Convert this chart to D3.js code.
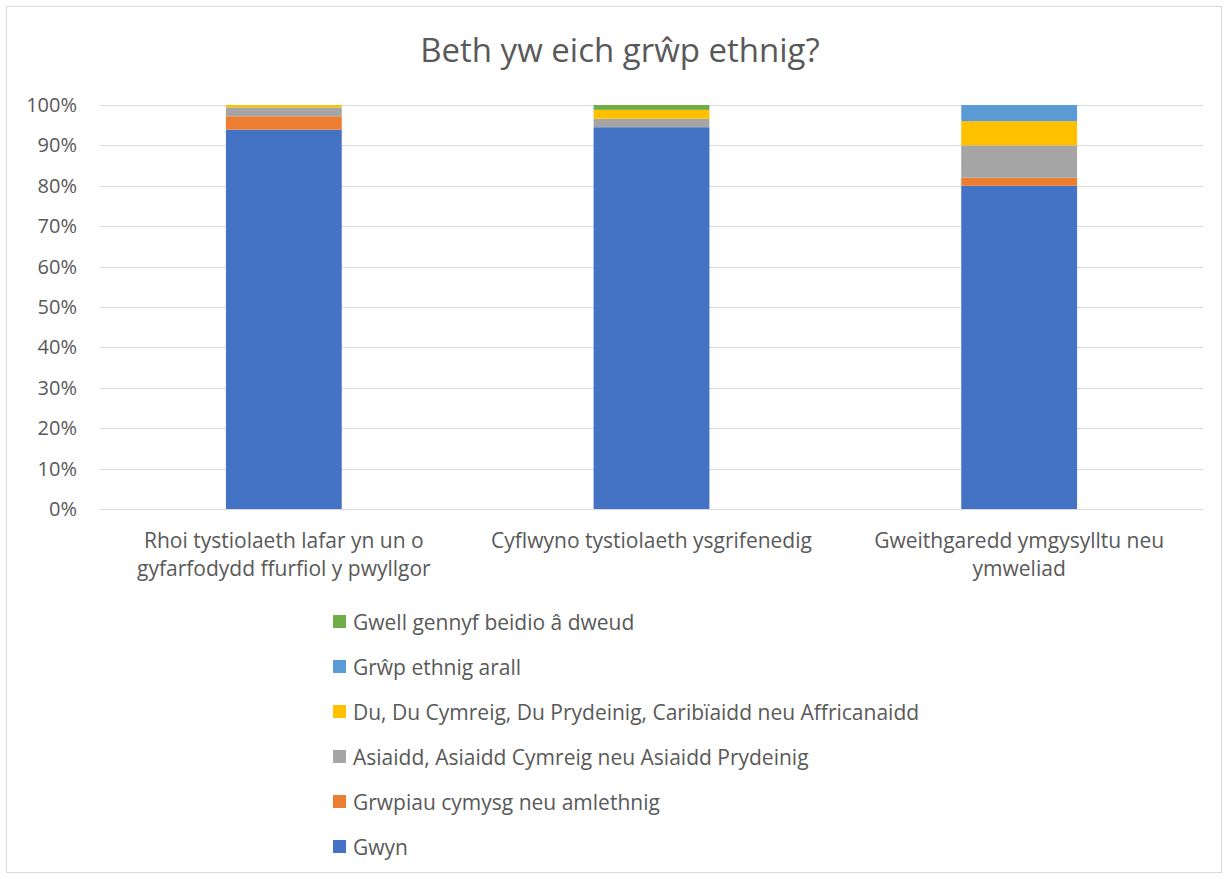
<!DOCTYPE html>
<html>
  <head>
    <meta charset="utf-8">
    <title>Beth yw eich grŵp ethnig?</title>
    <script src="https://cdn.jsdelivr.net/npm/d3@7"></script>
    <style>
      body { margin: 0; background: #fff; }
      svg text { font-family: "Open Sans", "Liberation Sans", sans-serif; fill: #595959; }
      .grid line { stroke: #d9d9d9; stroke-width: 1; }
      .axis path, .axis line { stroke: none; }
    </style>
  </head>

  <body>
    <svg id="chart" width="1227" height="879"></svg>

    <script>
      // data
      categories = ["Rhoi tystiolaeth lafar yn un o gyfarfodydd ffurfiol y pwyllgor",
        "Cyflwyno tystiolaeth ysgrifenedig",
        "Gweithgaredd ymgysylltu neu ymweliad"];
      categoryLines = [
        ["Rhoi tystiolaeth lafar yn un o", "gyfarfodydd ffurfiol y pwyllgor"],
        ["Cyflwyno tystiolaeth ysgrifenedig"],
        ["Gweithgaredd ymgysylltu neu", "ymweliad"]
      ];
      seriesNames = ["Gwyn", "Grwpiau cymysg neu amlethnig",
        "Asiaidd, Asiaidd Cymreig neu Asiaidd Prydeinig",
        "Du, Du Cymreig, Du Prydeinig, Caribïaidd neu Affricanaidd",
        "Grŵp ethnig arall", "Gwell gennyf beidio â dweud"];
      gwyn = [0.939, 0.945, 0.80];
      cymysg = [0.033, 0.0, 0.02];
      asiaidd = [0.022, 0.021, 0.08];
      du = [0.006, 0.022, 0.06];
      arall = [0.0, 0.0, 0.04];
      gwell = [0.0, 0.012, 0.0];
      colours = ["#4472C4", "#ED7D31", "#A5A5A5", "#FFC000", "#5B9BD5", "#70AD47"];
      yTicks = [0, 0.1, 0.2, 0.3, 0.4, 0.5, 0.6, 0.7, 0.8, 0.9, 1];

      seriesValues = [gwyn, cymysg, asiaidd, du, arall, gwell];
      rows = categories.map(function(c, i) {
        var r = { category: c };
        seriesNames.forEach(function(s, j) { r[s] = seriesValues[j][i]; });
        return r;
      });

      // page elements
      chart = d3.select("#chart");
      margin = { top: 105, right: 24, bottom: 370, left: 100 };
      width = 1227;
      height = 879;

      // outer border
      chart.append("rect")
        .attr("x", 6.5).attr("y", 6.5)
        .attr("width", 1215).attr("height", 866)
        .attr("fill", "none")
        .attr("stroke", "#d9d9d9");

      // title
      chart.append("text")
        .attr("x", 620).attr("y", 62)
        .attr("text-anchor", "middle")
        .style("font-size", "33px")
        .text("Beth yw eich grŵp ethnig?");

      x = d3.scaleBand()
        .domain(categories)
        .range([margin.left, width - margin.right])
        .padding(0);
      y = d3.scaleLinear()
        .domain([0, 1])
        .range([509, margin.top]);

      // gridlines
      chart.append("g")
        .attr("class", "grid")
        .selectAll("line")
          .data(yTicks)
        .enter().append("line")
          .attr("x1", margin.left)
          .attr("x2", width - margin.right)
          .attr("y1", function(d) { return Math.round(y(d)) + 0.5; })
          .attr("y2", function(d) { return Math.round(y(d)) + 0.5; });

      // y axis labels
      yAxis = d3.axisLeft(y)
        .tickValues(yTicks)
        .tickFormat(d3.format(".0%"))
        .tickSize(0)
        .tickPadding(23);
      yAxisGroup = chart.append("g")
        .attr("class", "axis")
        .attr("transform", "translate(" + margin.left + ", 0)")
        .call(yAxis);
      yAxisGroup.selectAll("text")
        .style("font-size", "20px");

      // stacked bars
      stack = d3.stack().keys(seriesNames);
      barWidth = x.bandwidth() * 0.315;
      layers = chart.append("g")
        .selectAll(".layer")
          .data(stack(rows))
        .enter().append("g")
          .attr("fill", function(d, i) { return colours[i]; });
      layers.selectAll("rect")
          .data(function(d) { return d; })
        .enter().append("rect")
          .attr("x", function(d) { return x(d.data.category) + (x.bandwidth() - barWidth) / 2; })
          .attr("width", barWidth)
          .attr("y", function(d) { return y(d[1]); })
          .attr("height", function(d) { return y(d[0]) - y(d[1]); });

      // x axis line
      chart.append("line")
        .attr("x1", margin.left).attr("x2", width - margin.right)
        .attr("y1", 509.5).attr("y2", 509.5)
        .attr("stroke", "#d9d9d9");

      // x axis labels
      xLabels = chart.append("g")
        .selectAll("text")
          .data(categories)
        .enter().append("text")
          .attr("text-anchor", "middle")
          .attr("transform", function(d) {
            return "translate(" + (x(d) + x.bandwidth() / 2) + ", 548)";
          })
          .style("font-size", "21px");
      xLabels.selectAll("tspan")
          .data(function(d, i) { return categoryLines[i]; })
        .enter().append("tspan")
          .attr("x", 0)
          .attr("dy", function(d, i) { return i === 0 ? 0 : 28; })
          .text(function(d) { return d; });

      // legend
      legendOrder = seriesNames.map(function(s, i) { return i; }).reverse();
      legend = chart.append("g")
        .attr("transform", "translate(333, 622)");
      items = legend.selectAll(".item")
          .data(legendOrder)
        .enter().append("g")
          .attr("transform", function(d, i) { return "translate(0, " + (i * 45) + ")"; });
      items.append("rect")
        .attr("x", 0).attr("y", -7)
        .attr("width", 13).attr("height", 13)
        .attr("fill", function(d) { return colours[d]; });
      items.append("text")
        .attr("x", 20).attr("y", 8)
        .style("font-size", "21px")
        .text(function(d) { return seriesNames[d]; });
    </script>
  </body>
</html>
